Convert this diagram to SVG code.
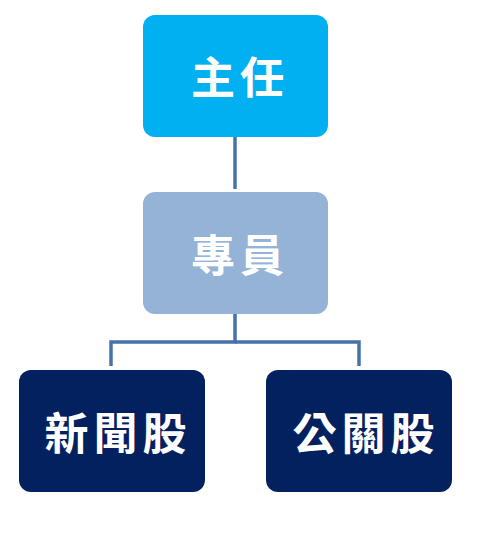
<svg xmlns="http://www.w3.org/2000/svg" width="477" height="538" viewBox="0 0 477 538">
<style>
.box{stroke:none}
.t{font-family:"Noto Sans CJK TC","Noto Sans CJK SC",sans-serif;font-size:44px;font-weight:bold;fill:#ffffff;text-anchor:middle;dominant-baseline:central;letter-spacing:5px}
.c{fill:none;stroke:#4672AA;stroke-width:3.5}
</style>
<rect width="477" height="538" fill="#ffffff"/>
<g id="connectors">
<line class="c" x1="235" y1="137" x2="235" y2="189"/>
<polyline class="c" points="235,314 235,342 111,342 111,366"/>
<polyline class="c" points="235,342 359,342 359,366"/>
</g>
<g id="node-zhuren">
<rect class="box" x="143" y="15" width="185" height="122" rx="12" fill="#00B0F0"/>
<text class="t" x="240" y="75">主任</text>
</g>
<g id="node-zhuanyuan">
<rect class="box" x="143" y="192" width="185" height="122" rx="12" fill="#95B3D7"/>
<text class="t" x="240" y="253">專員</text>
</g>
<g id="node-xinwen">
<rect class="box" x="19" y="370" width="186" height="122" rx="12" fill="#03215E"/>
<text class="t" x="118" y="431">新聞股</text>
</g>
<g id="node-gongguan">
<rect class="box" x="266" y="370" width="186" height="122" rx="12" fill="#03215E"/>
<text class="t" x="366" y="431">公關股</text>
</g>
</svg>
